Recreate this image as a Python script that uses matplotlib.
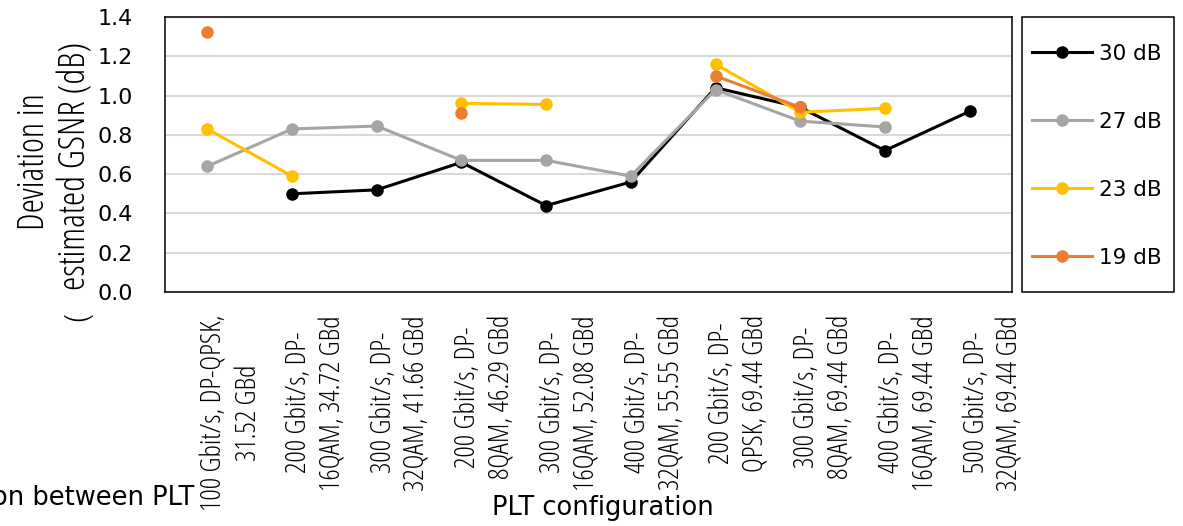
import numpy as np
import matplotlib
matplotlib.use("Agg")
import matplotlib.pyplot as plt
from matplotlib.patches import Rectangle
from matplotlib.transforms import ScaledTranslation

# the original looks like a horizontally stretched Calibri render:
# wide face for horizontal text, condensed face for rotated text
plt.rcParams['font.family'] = ['DejaVu Sans']
NARROW = dict(family=['Open Sans', 'DejaVu Sans'], fontstretch='condensed')

# data (nan = no point)
nan = np.nan
configs = [
    "100 Gbit/s, DP-QPSK,\n31.52 GBd",
    "200 Gbit/s, DP-\n16QAM, 34.72 GBd",
    "300 Gbit/s, DP-\n32QAM, 41.66 GBd",
    "200 Gbit/s, DP-\n8QAM, 46.29 GBd",
    "300 Gbit/s, DP-\n16QAM, 52.08 GBd",
    "400 Gbit/s, DP-\n32QAM, 55.55 GBd",
    "200 Gbit/s, DP-\nQPSK, 69.44 GBd",
    "300 Gbit/s, DP-\n8QAM, 69.44 GBd",
    "400 Gbit/s, DP-\n16QAM, 69.44 GBd",
    "500 Gbit/s, DP-\n32QAM, 69.44 GBd",
]
osnr_30 = [nan, 0.50, 0.52, 0.66, 0.44, 0.56, 1.04, 0.94, 0.72, 0.92]
osnr_27 = [0.64, 0.83, 0.845, 0.67, 0.67, 0.59, 1.03, 0.87, 0.84, nan]
osnr_23 = [0.83, 0.59, nan, 0.96, 0.955, nan, 1.16, 0.915, 0.935, nan]
osnr_19 = [1.325, nan, nan, 0.91, nan, nan, 1.10, 0.94, nan, nan]

series = [
    ("30 dB", osnr_30, "black"),
    ("27 dB", osnr_27, "#A5A5A5"),
    ("23 dB", osnr_23, "#FFC000"),
    ("19 dB", osnr_19, "#ED7D31"),
]

W, H = 1183, 526
fig = plt.figure(figsize=(W / 100, H / 100), dpi=100)
ax = fig.add_axes([165 / W, 1 - 292 / H, (1012 - 165) / W, (292 - 17) / H])

x = np.arange(len(configs))
handles = []
for name, vals, col in series:
    h, = ax.plot(x, vals, color=col, lw=2.2, marker='o', ms=8, label=name)
    handles.append(h)

ax.set_xlim(-0.5, len(configs) - 0.5)
ax.set_ylim(0, 1.4)
yt = np.arange(0, 1.41, 0.2)
ax.set_yticks(yt)
ax.set_yticklabels([f"{v:.1f}" for v in yt], fontsize=16)
ax.tick_params(axis='y', length=0, pad=23)
ax.set_xticks(x)
ax.set_xticklabels(configs, rotation=90, fontsize=20.5, va='top', ha='center',
                   multialignment='center', linespacing=1.3, **NARROW)
ax.tick_params(axis='x', length=0, pad=16.5)
shift = ScaledTranslation(24 / 100, 0, fig.dpi_scale_trans)
for lab in ax.get_xticklabels():
    lab.set_transform(lab.get_transform() + shift)

ax.yaxis.grid(True, color='#D9D9D9', lw=1.5)
ax.set_axisbelow(True)
for s in ax.spines.values():
    s.set_color('black')
    s.set_linewidth(1.1)

# y label (two lines as in the original) and its stray fragment
fig.text(35 / W, 1 - 162 / H, "Deviation in", rotation=90, fontsize=26,
         ha='center', va='center', **NARROW)
fig.text(76 / W, 1 - 166 / H, "estimated GSNR (dB)", rotation=90, fontsize=26,
         ha='center', va='center', **NARROW)
fig.text(78 / W, 1 - 316 / H, "(", rotation=90, fontsize=24,
         ha='center', va='center', **NARROW)

fig.text(603 / W, 1 - 515 / H, "PLT configuration", fontsize=18.5,
         ha='center', va='baseline')
# clipped caption fragment at the bottom-left
fig.text(194 / W, 1 - 505 / H, "Deviation between PLT", fontsize=18.5,
         ha='right', va='baseline')

# legend box
fig.patches.append(Rectangle((1022 / W, 1 - 292 / H), 152 / W, 275 / H,
                             transform=fig.transFigure, fill=False,
                             edgecolor='black', lw=1.1))
fig.legend(handles=handles, loc='upper left',
           bbox_to_anchor=(1032 / W, 1 - 44 / H),
           fontsize=15.5, labelspacing=2.23, handlelength=2.8,
           handletextpad=0.3, borderpad=0, borderaxespad=0, frameon=False)

fig.savefig("out.png", dpi=100)
